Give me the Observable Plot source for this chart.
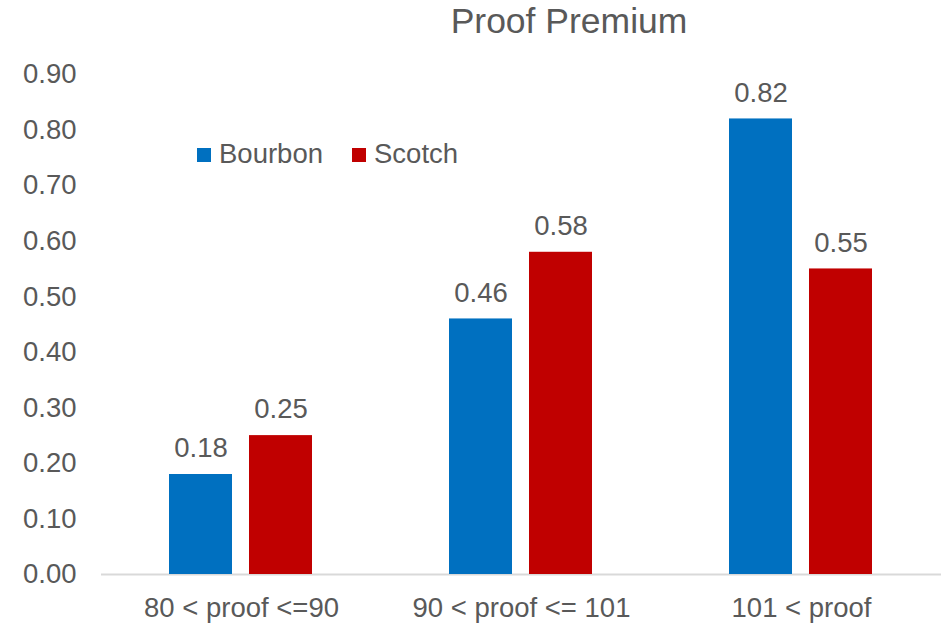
<!DOCTYPE html>
<html>
<head>
<meta charset="utf-8">
<script src="https://cdn.jsdelivr.net/npm/d3@7"></script>
<script src="https://cdn.jsdelivr.net/npm/@observablehq/plot@0.6"></script>
<style>
  body { margin: 0; background: #fff; }
  #chart {
    position: relative; width: 943px; height: 624px;
    font-family: "Liberation Sans", Arial, sans-serif; color: #595959;
  }
  #title {
    position: absolute; top: 4px; left: 369px; width: 400px;
    text-align: center; font-size: 35.5px; line-height: 35px; white-space: nowrap;
  }
  .key { position: absolute; top: 140px; height: 27px; font-size: 27.5px; line-height: 27px; white-space: nowrap; }
  .key .sw { position: absolute; left: 0; top: 8px; width: 14px; height: 14px; }
  .key .lab { position: absolute; left: 22px; top: 0; }
  #chart svg { position: absolute; left: 0; top: 0; }
</style>
</head>
<body>
<div id="chart">
  <div id="title">Proof Premium</div>
</div>
<script>
// Proof ranges on the x axis
const categories = ["80 < proof <=90", "90 < proof <= 101", "101 < proof"];
// Whisky types and their colours
const series = ["Bourbon", "Scotch"];
const seriesColors = ["#0070C0", "#C00000"];
// Premium per proof range
const bourbon = [0.18, 0.46, 0.82];
const scotch = [0.25, 0.58, 0.55];
// Y axis ticks
const yTicks = [0, 0.1, 0.2, 0.3, 0.4, 0.5, 0.6, 0.7, 0.8, 0.9];

const values = {Bourbon: bourbon, Scotch: scotch};
const data = categories.flatMap((c, i) =>
  series.map(s => ({category: c, series: s, value: values[s][i]}))
);

const plot = Plot.plot({
  width: 943,
  height: 624,
  marginTop: 74,
  marginBottom: 50,
  marginLeft: 100,
  marginRight: 1,
  style: {fontSize: "27.5px", fontFamily: "'Liberation Sans', Arial, sans-serif", color: "#595959", background: "transparent"},
  fx: {domain: categories, padding: 0, axis: "bottom", label: null, tickSize: 0, tickPadding: 23},
  x: {domain: series, paddingInner: 0.21, paddingOuter: 0.84, axis: null},
  y: {domain: [0, 0.9], ticks: yTicks, tickFormat: ".2f", tickSize: 0, tickPadding: 25, label: null},
  color: {domain: series, range: seriesColors},
  marks: [
    Plot.ruleY([0], {stroke: "#d9d9d9", strokeWidth: 2}),
    Plot.barY(data, {fx: "category", x: "series", y: "value", fill: "series"}),
    Plot.text(data, {
      fx: "category", x: "series", y: "value",
      text: d => d.value.toFixed(2),
      dy: -26, fill: "#595959", fontSize: 27.5
    })
  ]
});
document.getElementById("chart").appendChild(plot);

// Legend keys drawn from the series and colour arrays
const keyLeft = [197, 352];
const chart = d3.select("#chart");
series.forEach((s, i) => {
  const k = chart.append("div").attr("class", "key").style("left", keyLeft[i] + "px");
  k.append("span").attr("class", "sw").style("background", seriesColors[i]);
  k.append("span").attr("class", "lab").text(s);
});
</script>
</body>
</html>
